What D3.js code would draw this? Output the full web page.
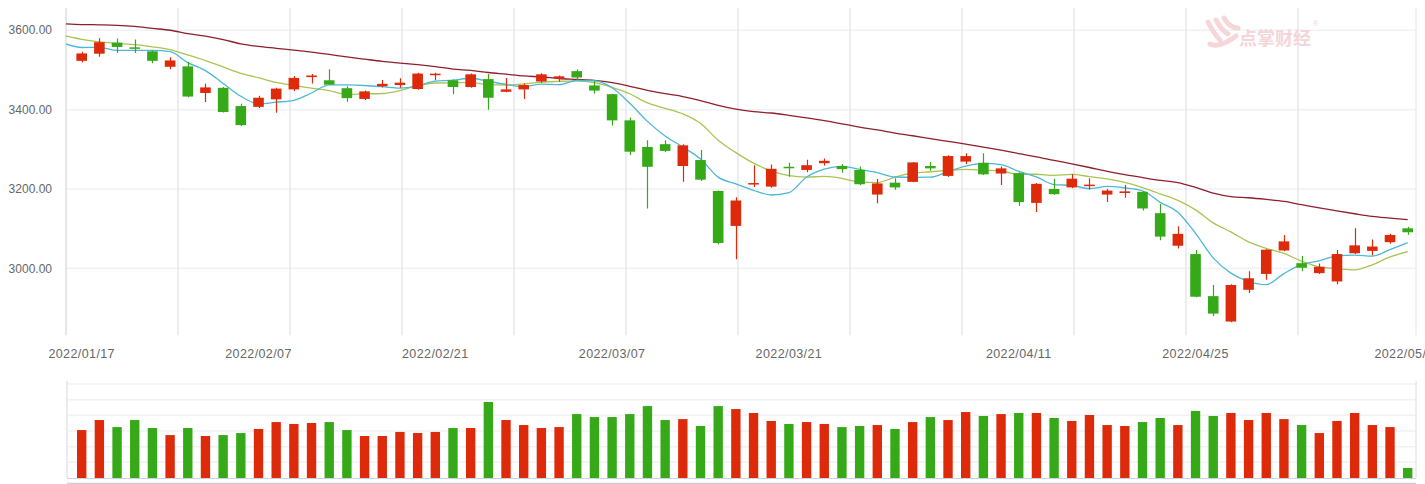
<!DOCTYPE html>
<html><head><meta charset="utf-8">
<script src="https://cdn.jsdelivr.net/npm/d3@7/dist/d3.min.js"></script>
<style>html,body{margin:0;padding:0;background:#fff;}svg{display:block}</style>
</head><body><svg id="c" width="1425" height="484"></svg>
<script>
// ---- data ----
const dates = ["2022/01/17","2022/01/18","2022/01/19","2022/01/20","2022/01/21",
"2022/01/24","2022/01/25","2022/01/26","2022/01/27","2022/01/28",
"2022/02/07","2022/02/08","2022/02/09","2022/02/10","2022/02/11",
"2022/02/14","2022/02/15","2022/02/16","2022/02/17","2022/02/18",
"2022/02/21","2022/02/22","2022/02/23","2022/02/24","2022/02/25",
"2022/02/28","2022/03/01","2022/03/02","2022/03/03","2022/03/04",
"2022/03/07","2022/03/08","2022/03/09","2022/03/10","2022/03/11",
"2022/03/14","2022/03/15","2022/03/16","2022/03/17","2022/03/18",
"2022/03/21","2022/03/22","2022/03/23","2022/03/24","2022/03/25",
"2022/03/28","2022/03/29","2022/03/30","2022/03/31","2022/04/01",
"2022/04/06","2022/04/07","2022/04/08",
"2022/04/11","2022/04/12","2022/04/13","2022/04/14","2022/04/15",
"2022/04/18","2022/04/19","2022/04/20","2022/04/21","2022/04/22",
"2022/04/25","2022/04/26","2022/04/27","2022/04/28","2022/04/29",
"2022/05/05","2022/05/06",
"2022/05/09","2022/05/10","2022/05/11","2022/05/12","2022/05/13",
"2022/05/16"];

const open  = [3523,3541,3569,3557,3547,3508,3509,3442,3455,3409,3407,3426,3451,3482,3474,3454,3427,3459,3462,3452,3488,3474,3457,3477,3445,3451,3471,3478,3497,3461,3439,3373,3306,3313,3258,3273,3195,3107,3214,3206,3256,3248,3265,3258,3248,3186,3216,3218,3258,3233,3269,3266,3239,3240,3165,3200,3204,3209,3186,3190,3193,3139,3057,3036,2930,2866,2946,2986,3045,3013,2988,2967,3038,3044,3066,3101];
const high  = [3546,3580,3579,3577,3549,3532,3521,3465,3457,3415,3435,3455,3485,3490,3502,3459,3448,3475,3479,3493,3493,3476,3491,3490,3480,3466,3492,3486,3501,3473,3440,3380,3323,3323,3313,3298,3196,3179,3260,3262,3266,3274,3277,3263,3257,3225,3227,3268,3268,3285,3290,3290,3257,3242,3215,3226,3238,3227,3200,3210,3195,3162,3106,3046,2958,2960,2993,3049,3084,3031,3012,3046,3101,3073,3087,3105];
const low   = [3519,3533,3543,3543,3517,3502,3431,3419,3393,3359,3404,3392,3447,3466,3462,3420,3424,3456,3455,3450,3474,3439,3455,3400,3444,3427,3468,3470,3476,3440,3360,3286,3151,3293,3218,3220,3061,3023,3205,3203,3231,3242,3259,3241,3210,3164,3198,3217,3246,3230,3263,3235,3210,3157,3142,3185,3202,3199,3167,3178,3146,3071,3050,2927,2880,2864,2938,2971,3043,2993,2986,2960,3036,3033,3062,3085];
const close = [3541.7,3570,3558,3555,3523,3524,3433,3456,3394,3361,3430,3453,3480,3486,3463,3429,3446,3465,3468,3491,3490.6,3457,3489,3430,3451,3462,3489,3484,3481,3448,3373,3294,3256,3296,3310,3223.5,3064,3171,3215,3251,3254,3260,3271,3250,3212,3214,3204,3267,3252,3283,3283,3237,3252,3167,3213,3187,3226,3211,3196,3194,3151,3080,3087,2928.5,2886,2958,2975,3047,3068,3001.5,3004,3036,3058,3055,3084,3091];
const volume = [306,370,325,370,319,274,319,268,274,287,313,357,345,351,357,306,268,268,294,287,294,319,319,485,370,338,319,325,408,389,389,408,459,370,376,332,459,440,415,364,345,357,345,325,332,338,313,357,389,370,421,396,408,415,415,383,364,402,338,332,357,383,338,428,396,415,370,415,376,338,287,364,415,338,325,64];

// moving averages; the first value belongs to the session before 2022/01/17 (drawn off the left edge, clipped)
const ma5  = [3567,3556.6,3557.1,3549.3,3549.2,3549.5,3546,3518.6,3498.2,3466,3433.6,3414.8,3418.8,3423.6,3442,3462.4,3462.2,3460.8,3457.8,3454.2,3459.8,3472.1,3474.3,3479.1,3471.5,3463.5,3457.8,3464.2,3463.2,3473.4,3472.8,3455,3416,3370.4,3333.4,3305.8,3275.9,3229.9,3212.9,3196.7,3184.9,3191,3230.2,3250.2,3257.2,3249.4,3241.4,3230.2,3229.4,3229.8,3244,3257.8,3264.4,3261.4,3244.4,3230.4,3211.2,3209,3200.8,3206.6,3202.8,3195.6,3166.4,3141.6,3088.1,3026.5,2987.9,2966.9,2958.9,2986.8,3009.9,3019.1,3031.3,3033.5,3030.9,3047.4,3064.8];
const ma10 = [3586.8,3577,3570.7,3567,3563.9,3558.3,3551.3,3537.9,3523.7,3507.6,3491.6,3480.4,3468.7,3460.9,3454,3448,3438.5,3439.8,3440.7,3448.1,3461.1,3467.2,3467.6,3468.5,3462.9,3461.7,3465,3469.3,3471.2,3472.5,3468.2,3456.4,3440.1,3416.8,3403.4,3389.3,3365.5,3323,3291.7,3265.1,3245.4,3233.5,3230.1,3231.6,3227,3217.2,3216.2,3230.2,3239.8,3243.5,3246.7,3249.6,3247.3,3245.4,3237.1,3237.2,3234.5,3236.7,3231.1,3225.5,3216.6,3203.4,3187.7,3171.2,3147.4,3114.7,3091.8,3066.7,3050.3,3037.5,3018.2,3003.5,2999.1,2996.2,3008.9,3028.7,3042];
const ma30 = [3616.6,3614.5,3613.8,3612.6,3609.8,3604.8,3600.1,3591.8,3585,3576.5,3566,3559.3,3554.6,3549.8,3545.2,3539.2,3532.9,3527.2,3521.7,3517.4,3513.2,3508.2,3502.3,3498.8,3493.6,3489.3,3484.9,3482.3,3478.5,3476.1,3473.6,3468,3458.8,3448.7,3440.1,3433,3423,3410.7,3401.2,3395.2,3391.5,3385.7,3379.2,3372.3,3364.4,3356,3348.9,3340.8,3334.2,3327,3320.1,3313.2,3305.8,3297.9,3289.2,3281.2,3272,3263.3,3254.2,3244.7,3236.2,3228.8,3221.7,3216,3203.8,3189.7,3180.8,3177.9,3173.7,3168.8,3160.5,3152.2,3144.7,3137.6,3131.1,3126.8,3122.7];

const yTicks = [3000,3200,3400,3600];
const xTickLabels = ["2022/01/17","2022/02/07","2022/02/21","2022/03/07","2022/03/21","2022/04/11","2022/04/25","2022/05/16"];
const volTicks = [100,200,300,400,500,600];

// ---- drawing ----
const UP = "#dd2a0a", DOWN = "#36a918";
const svg = d3.select("#c");
const L = 66, R = 1416, T = 8.3, B = 335.3;

const x = d3.scalePoint().domain(dates).range([81.7, 1407.7]);
const step = x.step();
const y = d3.scaleLinear().domain([2831.3, 3655.4]).range([B, T]);
const yv = d3.scaleLinear().domain([0, 600]).range([478, 384]);

svg.append("defs").append("clipPath").attr("id","plot")
  .append("rect").attr("x",L).attr("y",T).attr("width",R-L).attr("height",B-T);

// horizontal grid
svg.append("g").selectAll("line").data(yTicks).join("line")
  .attr("x1",L).attr("x2",R).attr("y1",d=>y(d)).attr("y2",d=>y(d))
  .attr("stroke","#eff1f5").attr("stroke-width",1.5);
// vertical grid
const gridX = d3.scaleLinear().domain([0,12]).range([L, L+112*12]);
svg.append("g").selectAll("line").data(d3.range(1,12)).join("line")
  .attr("x1",d=>gridX(d)).attr("x2",d=>gridX(d)).attr("y1",T).attr("y2",B)
  .attr("stroke","#e6e9f0").attr("stroke-width",1.6);
svg.append("line").attr("x1",R).attr("x2",R).attr("y1",T).attr("y2",B)
  .attr("stroke","#eceef3").attr("stroke-width",1.5);
// left axis
svg.append("line").attr("x1",L).attr("x2",L).attr("y1",T).attr("y2",B)
  .attr("stroke","#c9ced8").attr("stroke-width",1);

// y labels
svg.append("g").selectAll("text").data(yTicks).join("text")
  .attr("x",52).attr("y",d=>y(d)).attr("dy","0.35em").attr("text-anchor","end")
  .attr("font-family","Liberation Sans, Arial, sans-serif").attr("font-size",12)
  .attr("fill","#666").text(d=>d.toFixed(2));

// x labels (the last one runs past the right edge, as in the reference)
svg.append("g").selectAll("text").data(xTickLabels).join("text")
  .attr("x",d=>x(d)).attr("y",358).attr("text-anchor","middle")
  .attr("font-family","Liberation Sans, Arial, sans-serif").attr("font-size",12.5)
  .attr("letter-spacing","0.4px").attr("fill","#666").text(d=>d);

// watermark
const wm = svg.append("g");
wm.append("path").attr("d","M1208,22 C1212,30 1216,36 1220,40 M1216,20 C1220,27 1224,32 1228,34 M1224,18 C1228,25 1232,28 1238,28 M1210,44 C1218,48 1228,42 1236,36")
  .attr("fill","none").attr("stroke","#f6d6d9").attr("stroke-width",5).attr("stroke-linecap","round");
wm.append("text").attr("x",1239).attr("y",45)
  .attr("font-family","Noto Sans CJK SC, sans-serif").attr("font-weight","bold").attr("font-size",18)
  .attr("fill","#f5d5d8").text("点掌财经");
wm.append("text").attr("x",1313).attr("y",26)
  .attr("font-family","Liberation Sans, sans-serif").attr("font-size",7)
  .attr("fill","#f5d5d8").text("®");

const plot = svg.append("g").attr("clip-path","url(#plot)");
const idx = d3.range(dates.length);
const col = i => close[i] >= open[i] ? UP : DOWN;

// MA lines (first point is the previous session, one step left of the first candle)
const maX = (d,i) => x(dates[0]) + (i-1)*step;
const lineGen = d3.line().x(maX).y(d=>y(d)).curve(d3.curveMonotoneX);
[[ma30,"#8e1f2c"],[ma10,"#a9c452"],[ma5,"#4cb8d6"]].forEach(([arr,c])=>{
  plot.append("path").datum(arr).attr("d",lineGen)
    .attr("fill","none").attr("stroke",c).attr("stroke-width",1.3);
});

// candles
const bw = step*0.6;
const cg = plot.append("g");
cg.selectAll("line").data(idx).join("line")
  .attr("x1",i=>Math.round(x(dates[i]))+0.5).attr("x2",i=>Math.round(x(dates[i]))+0.5)
  .attr("y1",i=>y(high[i])).attr("y2",i=>y(low[i]))
  .attr("stroke",col).attr("stroke-width",1.2);
cg.selectAll("rect").data(idx).join("rect")
  .attr("x",i=>x(dates[i])-bw/2).attr("width",bw)
  .attr("y",i=>y(Math.max(open[i],close[i])))
  .attr("height",i=>Math.max(1.5, Math.abs(y(open[i])-y(close[i]))))
  .attr("fill",col);

// volume panel
svg.append("g").selectAll("line").data(volTicks).join("line")
  .attr("x1",L+1).attr("x2",R).attr("y1",d=>yv(d)).attr("y2",d=>yv(d))
  .attr("stroke","#f0f2f6").attr("stroke-width",1.5);
svg.append("line").attr("x1",L+1).attr("x2",L+1).attr("y1",381).attr("y2",478)
  .attr("stroke","#e3e6ec").attr("stroke-width",1.5);
svg.append("line").attr("x1",R).attr("x2",R).attr("y1",381).attr("y2",478)
  .attr("stroke","#e6e9ef").attr("stroke-width",1.5);
const vw = step*0.53;
svg.append("g").selectAll("rect").data(idx).join("rect")
  .attr("x",i=>x(dates[i])-vw/2).attr("width",vw)
  .attr("y",i=>yv(volume[i])).attr("height",i=>yv(0)-yv(volume[i]))
  .attr("fill",col);
svg.append("line").attr("x1",L+1).attr("x2",R).attr("y1",yv(0)+0.5).attr("y2",yv(0)+0.5)
  .attr("stroke","#cbd4e4").attr("stroke-width",1.2);
svg.append("line").attr("x1",L+1).attr("x2",R).attr("y1",483.5).attr("y2",483.5)
  .attr("stroke","#d0d0d0").attr("stroke-width",1.5);
</script></body></html>
